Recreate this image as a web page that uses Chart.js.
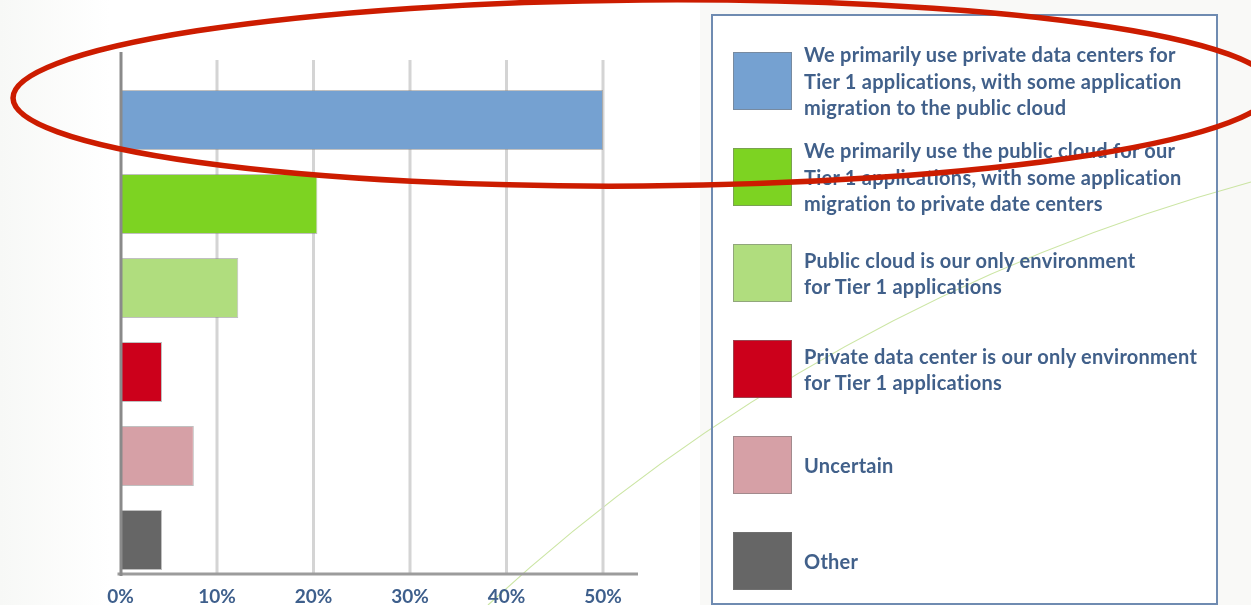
<!DOCTYPE html>
<html>
<head>
<meta charset="utf-8">
<script src="https://cdn.jsdelivr.net/npm/chart.js@4.4.1/dist/chart.umd.min.js"></script>
<style>
  html, body { margin: 0; padding: 0; background: #f9f9f7; }
  #wrap { position: relative; width: 1251px; height: 605px; overflow: hidden; }
  #grafico, #marcacao { position: absolute; left: 0; top: 0; }
  #marcacao { pointer-events: none; }
  #legenda {
    position: absolute; left: 711px; top: 14px; width: 507px; height: 591px;
    border: 2px solid #6f8bb1; box-sizing: border-box;
    padding: 36px 0 0 20px;
    font-family: 'Lato', 'Open Sans', sans-serif; font-weight: bold;
    font-size: 20px; letter-spacing: 0.25px; line-height: 26.5px; color: #41608a;
  }
  .item { display: flex; align-items: center; height: 58px; margin-bottom: 38px; }
  .caixa { width: 59px; height: 58px; box-sizing: border-box; border: 1px solid rgba(120,120,120,0.55); flex: none; }
  .texto { margin-left: 12px; white-space: nowrap; }
</style>
</head>
<body>
<div id="wrap">
  <canvas id="grafico" width="1251" height="605"></canvas>
  <div id="legenda"></div>
  <canvas id="marcacao" width="1251" height="605"></canvas>
</div>
<script>
// dados do gráfico
const categorias = [
    ['We primarily use private data centers for', 'Tier 1 applications, with some application', 'migration to the public cloud'],
    ['We primarily use the public cloud for our', 'Tier 1 applications, with some application', 'migration to private date centers'],
    ['Public cloud is our only environment', 'for Tier 1 applications'],
    ['Private data center is our only environment', 'for Tier 1 applications'],
    ['Uncertain'],
    ['Other']
];
const valores = [50, 20.4, 12.2, 4.3, 7.6, 4.3];
const cores = ['#75a1d1', '#7dd322', '#b0dd7e', '#cc001b', '#d6a0a6', '#666666'];
const ticksX = [0, 10, 20, 30, 40, 50];

// fundo, curva clara e grade
const fundoPlugin = {
    id: 'fundo',
    beforeDraw(chart) {
        const ctx = chart.ctx;
        ctx.save();
        const grad = ctx.createLinearGradient(0, 0, 110, 0);
        grad.addColorStop(0, '#f7f8f6');
        grad.addColorStop(1, '#ffffff');
        ctx.fillStyle = grad;
        ctx.fillRect(0, 0, 700, chart.height);
        ctx.fillStyle = '#f9f9f7';
        ctx.fillRect(700, 0, chart.width - 700, chart.height);
        ctx.fillStyle = '#ffffff';
        ctx.fillRect(713, 16, 503, 589);
        // linha verde bem clara do fundo
        ctx.strokeStyle = 'rgba(190, 222, 140, 0.8)';
        ctx.lineWidth = 1.2;
        ctx.beginPath();
        ctx.moveTo(488, 605);
        ctx.quadraticCurveTo(820, 300, 1251, 182);
        ctx.stroke();
        ctx.restore();
    },
    beforeDatasetsDraw(chart) {
        const ctx = chart.ctx;
        const x = chart.scales.x;
        ctx.save();
        ctx.strokeStyle = '#d4d4d4';
        ctx.lineWidth = 3;
        ticksX.forEach(v => {
            if (v === 0) return;
            const px = x.getPixelForValue(v);
            ctx.beginPath();
            ctx.moveTo(px, 60);
            ctx.lineTo(px, 573);
            ctx.stroke();
        });
        ctx.restore();
    },
    afterDatasetsDraw(chart) {
        const ctx = chart.ctx;
        const x = chart.scales.x;
        const x0 = x.getPixelForValue(0);
        ctx.save();
        ctx.lineWidth = 3;
        ctx.strokeStyle = '#9c9c9c';
        ctx.beginPath();
        ctx.moveTo(x0 - 3, 574);
        ctx.lineTo(638, 574);
        ctx.stroke();
        ctx.strokeStyle = '#8a8a8a';
        ctx.beginPath();
        ctx.moveTo(x0 + 0.5, 52);
        ctx.lineTo(x0 + 0.5, 576);
        ctx.stroke();
        ctx.restore();
    }
};

// legenda em HTML a partir dos dados
function montarLegenda() {
    const legenda = document.getElementById('legenda');
    categorias.forEach((linhas, i) => {
        const item = document.createElement('div');
        item.className = 'item';
        const caixa = document.createElement('div');
        caixa.className = 'caixa';
        caixa.style.background = cores[i];
        const texto = document.createElement('div');
        texto.className = 'texto';
        texto.innerHTML = linhas.join('<br>');
        item.appendChild(caixa);
        item.appendChild(texto);
        legenda.appendChild(item);
    });
}

// elipse vermelha desenhada por cima de tudo
function desenharElipse() {
    const ctx = document.getElementById('marcacao').getContext('2d');
    ctx.strokeStyle = '#cc1c00';
    ctx.lineWidth = 5.5;
    ctx.beginPath();
    ctx.ellipse(643, 93, 630, 93, -0.008, 0, Math.PI * 2);
    ctx.stroke();
}

const ctx = document.getElementById('grafico').getContext('2d');
const chart = new Chart(ctx, {
    type: 'bar',
    data: {
        labels: categorias.map(l => l.join(' ')),
        datasets: [{
            data: valores,
            backgroundColor: cores,
            borderColor: 'rgba(130, 130, 130, 0.5)',
            borderWidth: 1,
            barPercentage: 0.714,
            categoryPercentage: 1
        }]
    },
    options: {
        indexAxis: 'y',
        responsive: false,
        animation: false,
        layout: { padding: { left: 120.5, right: 648, top: 78, bottom: 0 } },
        plugins: { legend: { display: false }, tooltip: { enabled: false } },
        scales: {
            x: {
                min: 0,
                max: 50,
                grid: { display: false, drawTicks: false },
                border: { display: false },
                ticks: {
                    stepSize: 10,
                    padding: 3,
                    color: '#3e5f8c',
                    font: { family: 'Lato', weight: 'bold', size: 19 },
                    callback: v => v + '%'
                },
                afterFit: s => { s.height = 23; }
            },
            y: { display: false }
        }
    },
    plugins: [fundoPlugin]
});

montarLegenda();
desenharElipse();
</script>
</body>
</html>
